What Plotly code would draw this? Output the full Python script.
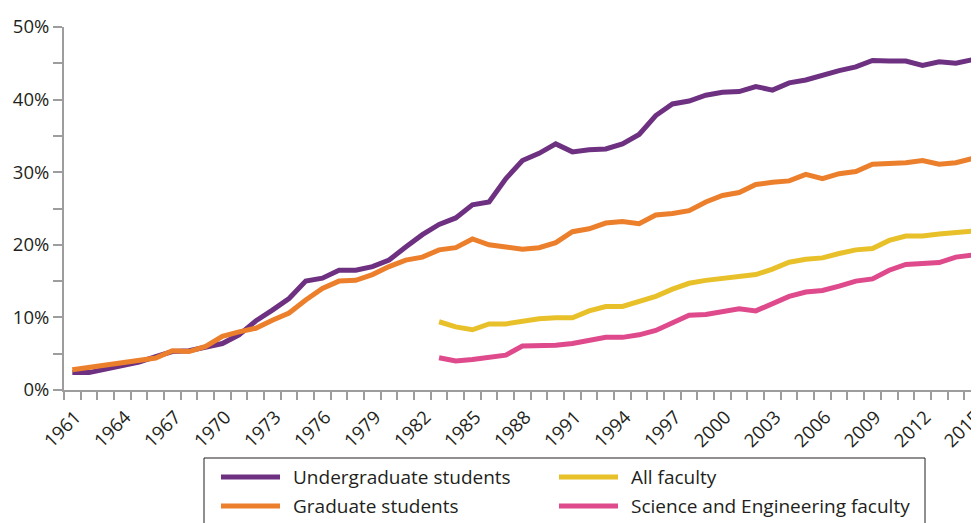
import plotly.graph_objects as go

# ---------------- data ----------------
years = list(range(1961, 2016))
undergrad = [2.4, 2.4, 2.9, 3.3, 3.85, 4.6, 5.3, 5.4, 5.9, 6.4,
             7.6, 9.5, 11.0, 12.6, 15.0, 15.4, 16.5, 16.5, 17.0, 17.9,
             19.7, 21.4, 22.8, 23.7, 25.5, 25.9, 29.1, 31.6, 32.6, 33.9,
             32.8, 33.1, 33.2, 33.9, 35.2, 37.8, 39.4, 39.8, 40.6, 41.0,
             41.1, 41.8, 41.3, 42.3, 42.7, 43.4, 44.0, 44.5, 45.4, 45.3,
             45.3, 44.7, 45.2, 45.0, 45.5]
graduate = [2.8, 3.1, 3.5, 3.8, 4.1, 4.4, 5.4, 5.3, 6.0, 7.4,
            8.0, 8.5, 9.6, 10.6, 12.4, 14.0, 15.0, 15.1, 15.9, 17.0,
            17.9, 18.3, 19.3, 19.6, 20.8, 20.0, 19.7, 19.4, 19.6, 20.3,
            21.8, 22.2, 23.0, 23.2, 22.9, 24.1, 24.3, 24.7, 25.9, 26.8,
            27.2, 28.3, 28.6, 28.8, 29.7, 29.1, 29.8, 30.1, 31.1, 31.2,
            31.3, 31.6, 31.1, 31.3, 31.9]
fac_years = list(range(1983, 2016))
all_faculty = [9.4, 8.7, 8.3, 9.1, 9.1, 9.5, 9.8, 9.95, 9.95,
               10.9, 11.5, 11.5, 12.2, 12.9, 13.9, 14.7, 15.1, 15.4,
               15.7, 15.9, 16.65, 17.6, 18.0, 18.2, 18.8, 19.3, 19.5, 20.6,
               21.2, 21.2, 21.5, 21.7, 21.9]
se_faculty = [4.45, 4.0, 4.2, 4.5, 4.8, 6.05, 6.05, 6.15, 6.4,
              6.8, 7.25, 7.25, 7.6, 8.2, 9.3, 10.3, 10.4, 10.8,
              11.2, 10.9, 11.9, 12.9, 13.5, 13.7, 14.3, 15.0, 15.3, 16.5,
              17.3, 17.5, 17.55, 18.3, 18.6]

x_tick_years = list(range(1961, 2016, 3))
y_ticks = [0, 10, 20, 30, 40, 50]
y_tick_labels = [f"{v}%" for v in y_ticks]

series_names = ["Undergraduate students", "Graduate students",
                "All faculty", "Science and Engineering faculty"]
colors = ["#6E3080", "#EC7F2C", "#E8C02A", "#DE4A8C"]

# ---------------- figure ----------------
# the page body has an 8px margin, so the figure is laid out 8px up/left
OFF = 8
W, H = 979 - OFF, 523 - OFF
ML, MR, MT, MB = 64 - OFF, 0, 27 - OFF, 523 - 390
PW, PH = W - ML - MR, H - MT - MB
TEXT = "#231F20"
AXIS = "#9D9D9D"
FONT = "Open Sans"
TICK_SIZE = 18.5
LEG_SIZE = 19

fig = go.Figure()
for name, xs, ys, c in [
    (series_names[0], years, undergrad, colors[0]),
    (series_names[1], years, graduate, colors[1]),
    (series_names[2], fac_years, all_faculty, colors[2]),
    (series_names[3], fac_years, se_faculty, colors[3]),
]:
    fig.add_trace(go.Scatter(x=xs, y=ys, mode="lines", name=name,
                             line=dict(color=c, width=5), showlegend=False,
                             cliponaxis=False))

px_per_year = 16.67
x0 = 1960.5
x1 = x0 + PW / px_per_year

fig.update_layout(
    width=W, height=H,
    margin=dict(l=ML, r=MR, t=MT, b=MB, pad=0, autoexpand=False),
    paper_bgcolor="white", plot_bgcolor="white",
    font=dict(family=FONT, size=TICK_SIZE, color=TEXT),
    xaxis=dict(
        range=[x0, x1], tickmode="array", tickvals=x_tick_years,
        ticktext=[str(y) for y in x_tick_years], ticks="", tickangle=-45,
        automargin=False, ticklabeloverflow="allow",
        ticklabelstandoff=7, ticklabelshift=3,
        showgrid=False, zeroline=False, showline=True, linecolor=AXIS, linewidth=2,
        tickfont=dict(family=FONT, size=TICK_SIZE, color=TEXT),
        minor=dict(tickvals=[y + 0.5 for y in range(1960, 2016)], ticks="outside",
                   ticklen=8, tickcolor=AXIS, tickwidth=2, showgrid=False),
    ),
    yaxis=dict(
        range=[0, 50], tickmode="array", tickvals=y_ticks, ticktext=y_tick_labels,
        ticks="outside", ticklen=9, tickcolor=AXIS, tickwidth=2, automargin=False,
        showgrid=False, zeroline=False, showline=True, linecolor=AXIS, linewidth=2,
        tickfont=dict(family=FONT, size=TICK_SIZE, color=TEXT),
        minor=dict(tickvals=[5, 15, 25, 35, 45], ticks="outside", ticklen=9,
                   tickcolor=AXIS, tickwidth=2, showgrid=False),
    ),
)

# ---------------- legend (drawn below plot) ----------------
def px_x(x):
    return (x - OFF - ML) / PW

def px_y(y):
    return (H - MB - (y - OFF)) / PH

shapes = [dict(type="rect", xref="paper", yref="paper",
               x0=px_x(204), x1=px_x(925), y0=px_y(458), y1=px_y(540),
               line=dict(color=TEXT, width=1), fillcolor="rgba(0,0,0,0)")]
annotations = []
legend_pos = [(219, 477), (219, 506), (557, 477), (557, 506)]
for (lx, ly), name, c in zip(legend_pos, series_names, colors):
    shapes.append(dict(type="line", xref="paper", yref="paper",
                       x0=px_x(lx + 2), x1=px_x(lx + 61), y0=px_y(ly), y1=px_y(ly),
                       line=dict(color=c, width=5)))
    annotations.append(dict(xref="paper", yref="paper", x=px_x(lx + 72), y=px_y(ly),
                            text=name, showarrow=False, xanchor="left", yanchor="middle",
                            font=dict(family=FONT, size=LEG_SIZE, color=TEXT)))
fig.update_layout(shapes=shapes, annotations=annotations)

fig.write_html("out.html")
